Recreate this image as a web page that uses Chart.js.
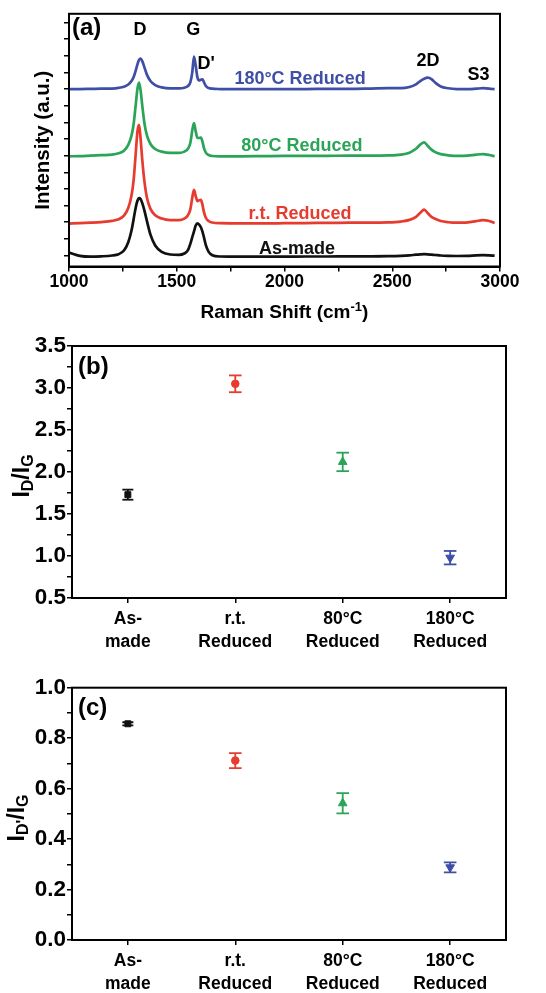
<!DOCTYPE html>
<html>
<head>
<meta charset="utf-8">
<script src="https://cdn.jsdelivr.net/npm/chart.js@4.4.1/dist/chart.umd.min.js"></script>
<style>
  html, body { margin: 0; padding: 0; background: #fff; }
  #figure { position: relative; width: 546px; height: 993px; overflow: hidden; background: #fff; }
  #figure canvas { position: absolute; left: 0; }
</style>
</head>
<body>
<div id="figure">
  <canvas id="ramanChart" width="546" height="330" style="top:0"></canvas>
  <canvas id="ratioDChart" width="546" height="330" style="top:330px"></canvas>
  <canvas id="ratioDPrimeChart" width="546" height="333" style="top:660px"></canvas>
</div>
<script>
'use strict';

// ---- panel (a): Raman spectra, offset for display ----
var ramanShift = [1000, 1050, 1100, 1150, 1200, 1230, 1255, 1275, 1290, 1300,
  1310, 1318, 1325, 1332, 1340, 1350, 1362, 1378, 1400, 1430,
  1470, 1510, 1535, 1552, 1563, 1572, 1580, 1588, 1596, 1604,
  1612, 1619, 1626, 1635, 1648, 1665, 1700, 1800, 1900, 2000,
  2100, 2200, 2300, 2400, 2480, 2540, 2580, 2610, 2630, 2648,
  2665, 2682, 2700, 2725, 2760, 2800, 2850, 2890, 2920, 2950, 2975];

var asMade = [0.18, -0.02, -0.07, -0.05, 0.00, 0.08, 0.30, 0.80, 1.50, 2.20,
  2.90, 3.30, 3.45, 3.40, 3.15, 2.70, 2.05, 1.25, 0.60, 0.22,
  0.06, 0.04, 0.12, 0.32, 0.70, 1.10, 1.45, 1.80, 1.93, 1.86,
  1.70, 1.45, 1.10, 0.62, 0.22, 0.02, -0.06, -0.07, -0.07, -0.07,
  -0.06, -0.06, -0.05, -0.05, -0.04, -0.02, 0.01, 0.05, 0.07, 0.08,
  0.07, 0.05, 0.03, 0.00, -0.02, -0.03, -0.02, 0.01, 0.02, 0.01, -0.01];

var rtReduced = [1.92, 1.94, 1.97, 2.01, 2.08, 2.18, 2.40, 2.85, 3.60, 4.55,
  6.20, 7.50, 7.85, 7.05, 5.75, 4.45, 3.45, 2.80, 2.42, 2.22,
  2.13, 2.13, 2.22, 2.42, 2.77, 3.47, 3.94, 3.57, 3.27, 3.32,
  3.34, 3.07, 2.62, 2.27, 2.07, 1.98, 1.94, 1.93, 1.93, 1.94,
  1.95, 1.96, 1.97, 1.98, 1.99, 2.04, 2.14, 2.32, 2.57, 2.76,
  2.54, 2.32, 2.20, 2.07, 2.00, 1.97, 1.99, 2.07, 2.12, 2.07, 1.95];

var reduced80 = [5.96, 5.97, 6.00, 6.03, 6.06, 6.14, 6.30, 6.65, 7.20, 7.90,
  9.10, 10.05, 10.38, 9.95, 9.00, 7.95, 7.20, 6.70, 6.40, 6.24,
  6.16, 6.16, 6.24, 6.41, 6.76, 7.51, 7.96, 7.46, 7.06, 7.06,
  7.09, 6.86, 6.46, 6.18, 6.04, 5.98, 5.96, 5.96, 5.97, 5.98,
  5.98, 5.99, 6.00, 6.00, 6.01, 6.06, 6.18, 6.41, 6.66, 6.80,
  6.58, 6.36, 6.21, 6.09, 6.02, 5.98, 6.00, 6.06, 6.09, 6.04, 5.96];

var reduced180 = [10.00, 10.00, 10.01, 10.02, 10.03, 10.07, 10.14, 10.27, 10.48, 10.72,
  11.12, 11.50, 11.75, 11.83, 11.68, 11.30, 10.85, 10.48, 10.23, 10.10,
  10.04, 10.04, 10.08, 10.18, 10.40, 11.00, 11.95, 11.40, 10.70, 10.52,
  10.56, 10.58, 10.42, 10.18, 10.06, 10.02, 10.00, 9.99, 9.99, 10.00,
  10.00, 10.01, 10.01, 10.03, 10.05, 10.05, 10.12, 10.28, 10.48, 10.62,
  10.68, 10.60, 10.38, 10.15, 10.05, 10.00, 9.99, 10.02, 10.05, 10.03, 9.99];

// ---- panels (b) and (c): intensity ratios ----
var sampleTicks = [['As-', 'made'], ['r.t.', 'Reduced'], ['80°C', 'Reduced'], ['180°C', 'Reduced']];
var ratioD = [1.73, 3.05, 2.12, 0.98];
var ratioDErr = [0.06, 0.10, 0.11, 0.08];
var ratioDPrime = [0.857, 0.711, 0.542, 0.288];
var ratioDPrimeErr = [0.006, 0.030, 0.040, 0.020];

var FONT = "'Liberation Sans', Arial, Helvetica, sans-serif";
var BLACK = '#111111';
var RED = '#e63b2e';
var GREEN = '#2aa457';
var BLUE = '#3f4ea6';
var sampleColors = [BLACK, RED, GREEN, BLUE];

Chart.defaults.font.family = FONT;
Chart.defaults.font.weight = 'bold';
Chart.defaults.font.size = 18;
Chart.defaults.color = '#000';
Chart.defaults.animation = false;

// text with sub/superscript runs, drawn centred on (x, y)
function richText(ctx, runs, x, y, color, rotation, align) {
  ctx.save();
  ctx.translate(x, y);
  if (rotation) ctx.rotate(rotation);
  ctx.fillStyle = color || '#000';
  ctx.textBaseline = 'alphabetic';
  ctx.textAlign = 'left';
  var widths = runs.map(function (r) {
    ctx.font = 'bold ' + r.size + 'px ' + FONT;
    return ctx.measureText(r.text).width;
  });
  var total = widths.reduce(function (a, b) { return a + b; }, 0);
  var cx = align === 'left' ? 0 : -total / 2;
  var base = runs[0].size * 0.36;
  runs.forEach(function (r, i) {
    ctx.font = 'bold ' + r.size + 'px ' + FONT;
    ctx.fillText(r.text, cx, base + (r.dy || 0));
    cx += widths[i];
  });
  ctx.restore();
}

var figureText = {
  id: 'figureText',
  afterDatasetsDraw: function (chart, args, opts) {
    var ctx = chart.ctx;
    var area = chart.chartArea;
    ctx.save();
    ctx.strokeStyle = '#000';
    ctx.lineWidth = 2;
    ctx.strokeRect(area.left, area.top, area.right - area.left, area.bottom - area.top);
    ctx.restore();
    (opts.items || []).forEach(function (item) {
      var p;
      if (item.value) {
        p = [chart.scales.x.getPixelForValue(item.value[0]), chart.scales.y.getPixelForValue(item.value[1])];
      } else {
        p = item.at(area);
      }
      richText(ctx, item.runs, p[0], p[1], item.color, item.rotation, item.align);
    });
  }
};

function t(text, size) { return [{ text: text, size: size || 18 }]; }

function fixedScale(size, horizontal) {
  return function (scale) {
    if (horizontal) scale.height = size; else scale.width = size;
  };
}

function axisGrid() {
  return { drawOnChartArea: false, drawTicks: true, tickLength: 5, color: '#000', lineWidth: 1.5 };
}

// ---- (a) ----
var spectra = [
  { label: 'As-made', y: asMade, color: BLACK },
  { label: 'r.t. Reduced', y: rtReduced, color: RED },
  { label: '80°C Reduced', y: reduced80, color: GREEN },
  { label: '180°C Reduced', y: reduced180, color: BLUE }
];

new Chart(document.getElementById('ramanChart'), {
  type: 'scatter',
  data: {
    datasets: spectra.map(function (s) {
      return {
        label: s.label,
        data: ramanShift.map(function (x, i) { return { x: x, y: s.y[i] }; }),
        showLine: true,
        borderColor: s.color,
        borderWidth: 2.7,
        pointRadius: 0,
        cubicInterpolationMode: 'monotone'
      };
    })
  },
  options: {
    responsive: false,
    layout: { padding: { left: 0, top: 12.5, right: 46, bottom: 0 } },
    plugins: {
      legend: { display: false },
      tooltip: { enabled: false },
      figureText: {
        items: [
          { runs: t('D'), value: [1330, 13.64] },
          { runs: t('G'), value: [1577, 13.64] },
          { runs: t("D'"), value: [1636, 11.57] },
          { runs: t('2D'), value: [2666, 11.77] },
          { runs: t('S3'), value: [2900, 10.92] },
          { runs: t('180°C Reduced'), value: [2072, 10.72], color: BLUE },
          { runs: t('80°C Reduced'), value: [2081, 6.66], color: GREEN },
          { runs: t('r.t. Reduced'), value: [2072, 2.6], color: RED },
          { runs: t('As-made'), value: [2058, 0.5], color: BLACK },
          { runs: t('(a)', 24), at: function (a) { return [a.left + 3, a.top + 12.5]; }, align: 'left' },
          { runs: t('Intensity (a.u.)', 20.5), at: function (a) { return [42, (a.top + a.bottom) / 2]; }, rotation: -Math.PI / 2 },
          { runs: [{ text: 'Raman Shift (cm', size: 19 }, { text: '-1', size: 13, dy: -7 }, { text: ')', size: 19 }],
            at: function (a) { return [(a.left + a.right) / 2, 311]; } }
        ]
      }
    },
    scales: {
      x: {
        type: 'linear', min: 1000, max: 3000,
        afterFit: fixedScale(63.5, true),
        grid: axisGrid(),
        border: { color: '#000', width: 2 },
        ticks: {
          stepSize: 250, autoSkip: false, maxRotation: 0, padding: 2,
          font: { size: 17.5, weight: 'bold', lineHeight: 1 },
          callback: function (v) { return v % 500 === 0 ? String(v) : ''; }
        }
      },
      y: {
        type: 'linear', min: -0.66, max: 14.52,
        afterFit: fixedScale(69, false),
        grid: axisGrid(),
        border: { color: '#000', width: 2 },
        ticks: { stepSize: 1, includeBounds: false, autoSkip: false, callback: function () { return ''; } }
      }
    }
  },
  plugins: [figureText]
});

// ---- (b) and (c) ----
function ratioChart(canvasId, values, errors, yMin, yMax, yStep, labelEvery, padTop, xHeight, titleRuns, titleX, titleY, panel) {
  var datasets = values.map(function (v, i) {
    return {
      data: [{ x: i + 1, y: v - errors[i] }, { x: i + 1, y: v + errors[i] }],
      showLine: true,
      borderColor: sampleColors[i],
      borderWidth: 1.8,
      pointStyle: 'line',
      pointRadius: i === 0 ? 5.5 : 6.3,
      pointBorderColor: sampleColors[i],
      pointBorderWidth: 1.8,
      pointHoverRadius: 0
    };
  });
  datasets.push({
    data: values.map(function (v, i) { return { x: i + 1, y: v }; }),
    pointStyle: ['rect', 'circle', 'triangle', 'triangle'],
    pointRotation: [0, 0, 0, 180],
    pointRadius: [4.2, 3.8, 5, 5],
    pointBackgroundColor: sampleColors,
    pointBorderColor: sampleColors,
    pointBorderWidth: 1
  });

  return new Chart(document.getElementById(canvasId), {
    type: 'scatter',
    data: { datasets: datasets },
    options: {
      responsive: false,
      layout: { padding: { left: 0, top: padTop, right: 40, bottom: 0 } },
      plugins: {
        legend: { display: false },
        tooltip: { enabled: false },
        figureText: {
          items: [
            { runs: t(panel, 24), at: function (a) { return [a.left + 6, a.top + 19]; }, align: 'left' },
            { runs: titleRuns, at: function () { return [titleX, titleY]; }, rotation: -Math.PI / 2 }
          ]
        }
      },
      scales: {
        x: {
          type: 'linear', min: 0.48, max: 4.52,
          afterFit: fixedScale(xHeight, true),
          grid: axisGrid(),
          border: { color: '#000', width: 2 },
          ticks: {
            stepSize: 1, includeBounds: false, autoSkip: false, maxRotation: 0, padding: 5,
            font: { size: 17.5, weight: 'bold', lineHeight: 1.3 },
            callback: function (v) { return Number.isInteger(v) ? sampleTicks[v - 1] : ''; }
          }
        },
        y: {
          type: 'linear', min: yMin, max: yMax,
          afterFit: fixedScale(72, false),
          grid: axisGrid(),
          border: { color: '#000', width: 2 },
          ticks: {
            stepSize: yStep, autoSkip: false, padding: 1,
            font: { size: 22.5, weight: 'bold' },
            callback: function (v) {
              var k = Math.round(v / yStep);
              return k % labelEvery === 0 ? v.toFixed(1) : '';
            }
          }
        }
      }
    },
    plugins: [figureText]
  });
}

ratioChart('ratioDChart', ratioD, ratioDErr, 0.5, 3.5, 0.25, 2, 16, 62,
  [{ text: 'I', size: 23 }, { text: 'D', size: 16, dy: 4 }, { text: '/I', size: 23 }, { text: 'G', size: 16, dy: 4 }],
  21, 146, '(b)');

ratioChart('ratioDPrimeChart', ratioDPrime, ratioDPrimeErr, 0, 1, 0.1, 2, 27.7, 53,
  [{ text: 'I', size: 23 }, { text: "D'", size: 16, dy: 4 }, { text: '/I', size: 23 }, { text: 'G', size: 16, dy: 4 }],
  16, 158, '(c)');
</script>
</body>
</html>
